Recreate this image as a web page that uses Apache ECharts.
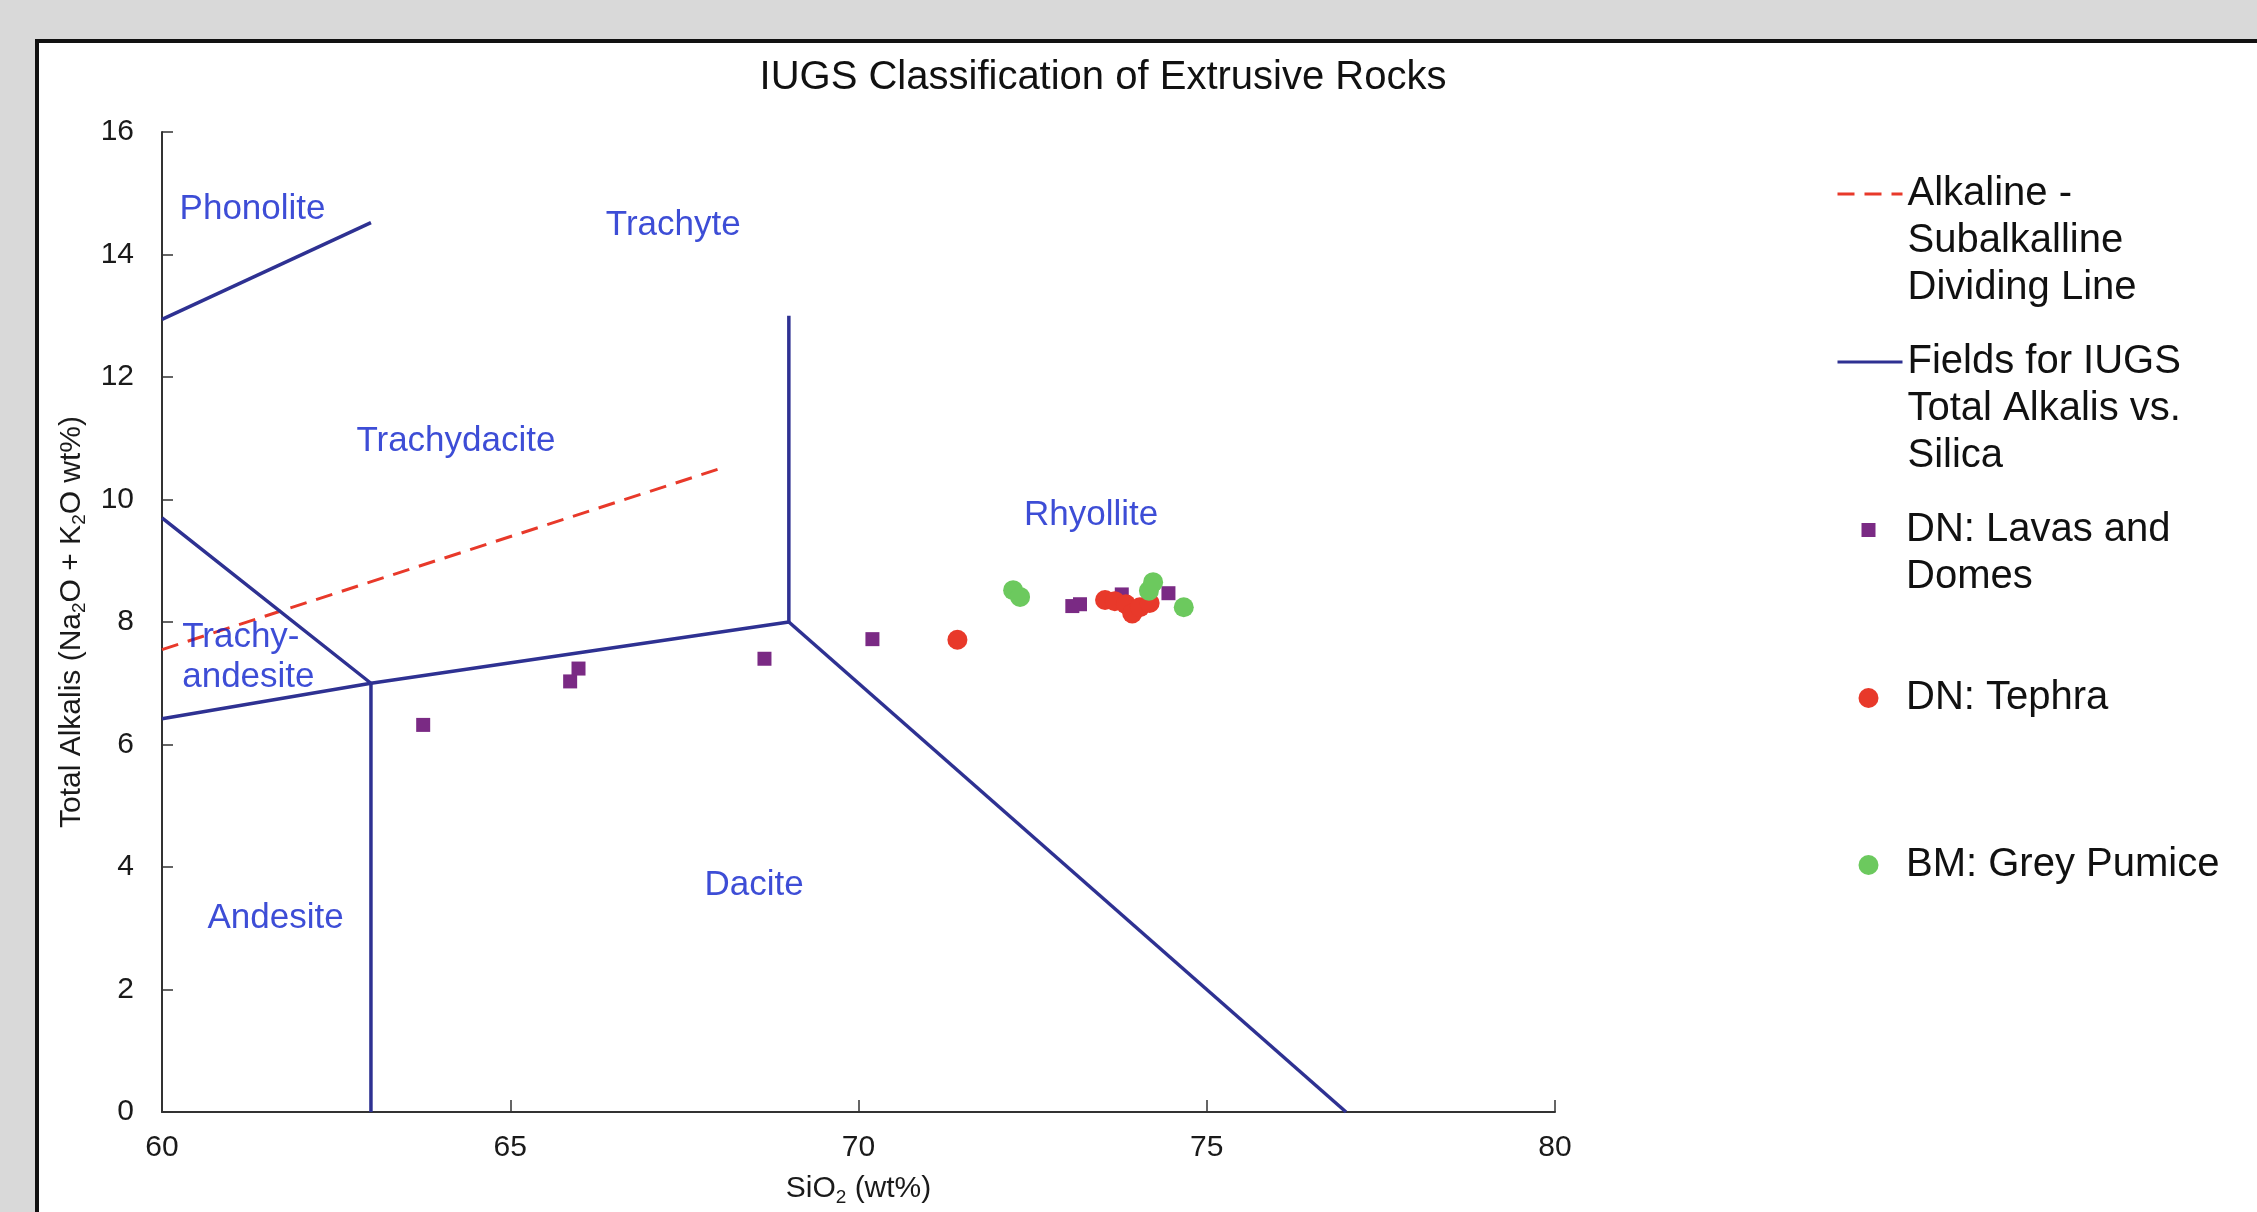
<!DOCTYPE html>
<html><head><meta charset="utf-8">
<script src="https://cdn.jsdelivr.net/npm/echarts@6/dist/echarts.min.js"></script>
<style>html,body{margin:0;padding:0;background:#d9d9d9}#c{width:2257px;height:1212px}</style>
</head><body><div id="c"></div>
<script>
// ---------- DATA ----------
const titleText = 'IUGS Classification of Extrusive Rocks';
const xMin = 60, xMax = 80, xStep = 5;
const yMin = 0, yMax = 16, yStep = 2;

// IUGS field boundaries (SiO2, total alkalis)
const phonoliteBoundary = [[60, 12.94], [63, 14.52]];
const trachyandesiteBoundary = [[60, 9.7], [63, 7.0], [63, 0]];
const andesiteBoundary = [[60, 6.42], [63, 7.0], [69, 8.0], [69, 13.0]];
const daciteBoundary = [[69, 8.0], [77, 0]];
// Alkaline - subalkaline dividing line
const alkalineLine = [[60, 7.55], [68, 10.5]];

// DN: Lavas and Domes
const lavasSiO2 = [63.75, 65.86, 65.98, 68.65, 70.20, 73.07, 73.18, 73.78, 74.45];
const lavasAlk  = [6.32, 7.03, 7.24, 7.40, 7.72, 8.26, 8.29, 8.45, 8.47];
// DN: Tephra
const tephraSiO2 = [71.42, 73.54, 73.68, 73.84, 73.93, 74.04, 74.18];
const tephraAlk  = [7.71, 8.36, 8.34, 8.29, 8.14, 8.24, 8.31];
// BM: Grey Pumice
const pumiceSiO2 = [72.22, 72.32, 74.17, 74.23, 74.67];
const pumiceAlk  = [8.52, 8.41, 8.51, 8.65, 8.24];

// Field names placed in the diagram
const regionNames = ['Phonolite', 'Trachyte', 'Trachydacite', 'Rhyollite', 'Trachy-\nandesite', 'Dacite', 'Andesite'];
const regionX = [61.3, 67.34, 64.22, 73.34, 60.29, 68.5, 61.63];
const regionY = [14.74, 14.48, 10.95, 9.74, 7.43, 3.7, 3.16];

const ALK_NAME = 'Alkaline - Subalkalline Dividing Line';
const FIELD_NAME = 'Fields for IUGS Total Alkalis vs. Silica';
const LAVA_NAME = 'DN: Lavas and Domes';
const TEPHRA_NAME = 'DN: Tephra';
const PUMICE_NAME = 'BM: Grey Pumice';
const legendNames = [ALK_NAME, FIELD_NAME, LAVA_NAME, TEPHRA_NAME, PUMICE_NAME];
const legendLines = [
  ['Alkaline -', 'Subalkalline', 'Dividing Line'],
  ['Fields for IUGS', 'Total Alkalis vs.', 'Silica'],
  ['DN: Lavas and', 'Domes'],
  ['DN: Tephra'],
  ['BM: Grey Pumice']
];

// ---------- STYLE / LAYOUT ----------
const FONT = '"Liberation Sans", Arial, Helvetica, sans-serif';
const NAVY = '#2e3192';
const RED = '#e8392a';
const PURPLE = '#7a2a84';
const GREEN = '#6cc95e';
const LABEL_BLUE = '#0c20cc';
const LEG_LH = 47;
const LEG_W = 65;
const legendIconY = [194, 362, 530, 698, 865];
const legendIconH = [14, 14, 14, 20, 20];

const zip = (a, b) => a.map((v, i) => [v, b[i]]);

const chart = echarts.init(document.getElementById('c'), null, {renderer: 'canvas'});

const fieldSeries = [phonoliteBoundary, trachyandesiteBoundary, andesiteBoundary, daciteBoundary].map(seg => ({
  type: 'line', name: FIELD_NAME, data: seg, symbol: 'none', showSymbol: false,
  lineStyle: {color: NAVY, width: 3.5}, itemStyle: {color: NAVY}, z: 2, silent: true
}));

const legends = legendNames.map((name, i) => {
  const n = legendLines[i].length;
  const h = (2 * n - 1) * LEG_LH;
  const isMarker = i >= 2;
  const ih = legendIconH[i];
  const l = {
    show: true,
    data: [i === 2 ? {name, icon: 'path://M0 0H10V10H0Z'} : {name}],
    orient: 'vertical',
    left: 1836 + (isMarker ? (LEG_W - ih) / 2 : 0),
    top: legendIconY[i] - h / 2,
    padding: 0,
    itemWidth: LEG_W,
    itemHeight: ih,
    selectedMode: false,
    formatter: (nm) => {
      const idx = legendNames.indexOf(nm);
      const ls = legendLines[idx];
      return '\n'.repeat(ls.length - 1) + ls.join('\n');
    },
    textStyle: {fontFamily: FONT, fontSize: 40, color: '#111', lineHeight: LEG_LH}
  };
  if (!isMarker) {
    l.itemStyle = {color: 'rgba(0,0,0,0)', borderColor: 'rgba(0,0,0,0)', borderWidth: 0};
    l.lineStyle = {width: 3};
  }
  return l;
});

const richAxis = {
  n: {fontFamily: FONT, fontSize: 30, color: '#1a1a1a', lineHeight: 31, verticalAlign: 'top'},
  s: {fontFamily: FONT, fontSize: 19, color: '#1a1a1a', lineHeight: 33, verticalAlign: 'bottom'}
};

const option = {
  backgroundColor: '#d9d9d9',
  animation: false,
  graphic: [{
    type: 'rect', silent: true, z: -10,
    shape: {x: 37, y: 41, width: 2400, height: 1400},
    style: {fill: '#ffffff', stroke: '#111111', lineWidth: 4}
  }],
  title: {
    text: titleText, left: 1098, top: 53, textAlign: 'center',
    textStyle: {fontFamily: FONT, fontSize: 40, fontWeight: 'normal', color: '#111'}
  },
  legend: legends,
  grid: {left: 162, right: 702, top: 132, bottom: 100, containLabel: false, outerBoundsMode: 'none'},
  xAxis: {
    type: 'value', min: xMin, max: xMax, interval: xStep,
    name: '{n|SiO}{s|2}{n| (wt%)}', nameLocation: 'middle', nameGap: 62,
    nameTextStyle: {fontFamily: FONT, rich: richAxis},
    axisLine: {show: true, onZero: false, lineStyle: {color: '#333', width: 2}},
    axisTick: {show: true, inside: true, length: 12, lineStyle: {color: '#333', width: 1.5}},
    axisLabel: {fontFamily: FONT, fontSize: 30, color: '#1a1a1a', margin: 21},
    splitLine: {show: false}
  },
  yAxis: {
    type: 'value', min: yMin, max: yMax, interval: yStep,
    name: '{n|Total Alkalis (Na}{s|2}{n|O + K}{s|2}{n|O wt%)}', nameLocation: 'middle', nameGap: 63, nameRotate: 90,
    nameTextStyle: {fontFamily: FONT, rich: richAxis},
    axisLine: {show: true, onZero: false, lineStyle: {color: '#333', width: 2}},
    axisTick: {show: true, inside: true, length: 11, lineStyle: {color: '#333', width: 1.5}},
    axisLabel: {fontFamily: FONT, fontSize: 30, color: '#1a1a1a', margin: 28},
    splitLine: {show: false}
  },
  tooltip: {show: false},
  series: [
    {
      type: 'line', name: ALK_NAME, data: alkalineLine, symbol: 'none', showSymbol: false,
      lineStyle: {color: RED, width: 3, type: [17, 10]}, itemStyle: {color: RED}, z: 2, silent: true
    },
    ...fieldSeries,
    {
      type: 'scatter', name: LAVA_NAME, data: zip(lavasSiO2, lavasAlk),
      symbol: 'rect', symbolSize: 14, itemStyle: {color: PURPLE, opacity: 1}, z: 3, silent: true
    },
    {
      type: 'scatter', name: TEPHRA_NAME, data: zip(tephraSiO2, tephraAlk),
      symbol: 'circle', symbolSize: 20, itemStyle: {color: RED, opacity: 1}, z: 4, silent: true
    },
    {
      type: 'scatter', name: PUMICE_NAME, data: zip(pumiceSiO2, pumiceAlk),
      symbol: 'circle', symbolSize: 20, itemStyle: {color: GREEN, opacity: 1}, z: 5, silent: true
    },
    {
      type: 'scatter', name: 'regions', silent: true, z: 6,
      symbol: 'circle', symbolSize: 1, itemStyle: {color: 'rgba(0,0,0,0)'},
      data: regionNames.map((nm, i) => ({
        name: nm, value: [regionX[i], regionY[i]],
        label: nm.indexOf('\n') >= 0 ? {align: 'left'} : {}
      })),
      label: {
        show: true, position: 'inside', formatter: p => p.name,
        fontFamily: FONT, fontSize: 35, color: LABEL_BLUE, lineHeight: 40
      }
    }
  ]
};
chart.setOption(option);
</script></body></html>
